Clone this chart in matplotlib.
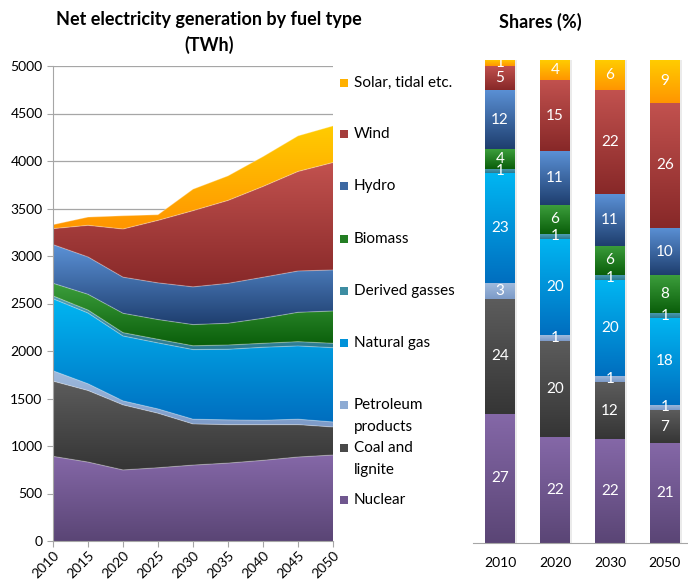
import numpy as np
import matplotlib
matplotlib.use('Agg')
import matplotlib.pyplot as plt
from matplotlib.colors import LinearSegmentedColormap, to_rgb
from matplotlib.patches import Rectangle

plt.rcParams['font.family'] = ['Lato', 'DejaVu Sans']

# -- data (TWh) --
years = [2010, 2015, 2020, 2025, 2030, 2035, 2040, 2045, 2050]
nuclear = [891, 831, 748, 771, 799, 820, 849, 884, 905]
coal = [792, 753, 685, 574, 433, 405, 376, 341, 295]
petroleum = [109, 71, 42, 45, 50, 50, 46, 57, 53]
natural_gas = [758, 745, 683, 695, 733, 743, 768, 771, 782]
derived_gas = [30, 31, 35, 38, 40, 45, 42, 45, 46]
biomass = [133, 166, 204, 208, 223, 229, 263, 309, 340]
hydro = [407, 393, 380, 386, 397, 420, 432, 435, 432]
wind = [168, 333, 507, 658, 802, 873, 956, 1048, 1131]
solar = [42, 87, 140, 60, 227, 259, 315, 375, 386]

fuel_names = ['Nuclear', 'Coal and\nlignite', 'Petroleum\nproducts', 'Natural gas',
              'Derived gasses', 'Biomass', 'Hydro', 'Wind', 'Solar, tidal etc.']
series = [nuclear, coal, petroleum, natural_gas, derived_gas, biomass, hydro, wind, solar]

# shares (%) shown on the bars, bottom to top
share_years = ['2010', '2020', '2030', '2050']
shares_2010 = [27, 24, 3, 23, 1, 4, 12, 5, 1]
shares_2020 = [22, 20, 1, 20, 1, 6, 11, 15, 4]
shares_2030 = [22, 12, 1, 20, 1, 6, 11, 22, 6]
shares_2050 = [21, 7, 1, 18, 1, 8, 10, 26, 9]
share_labels = [shares_2010, shares_2020, shares_2030, shares_2050]

# gradient colours (top, bottom) per fuel
colors = [('#8568A8', '#5A4575'),
          ('#5C5C5C', '#353535'),
          ('#A0BBDD', '#7C9AC8'),
          ('#00B6F2', '#006EBF'),
          ('#4F9FB4', '#2B7A90'),
          ('#3C9E3C', '#0A5E0A'),
          ('#5B91D6', '#1E3E6E'),
          ('#C2524F', '#872828'),
          ('#FFCC00', '#FF9500')]

grad = np.linspace(0, 1, 256).reshape(-1, 1)


def gradient(ax, clip, top, bottom, x0, x1, y0, y1, z):
    cmap = LinearSegmentedColormap.from_list('g', [bottom, top])
    im = ax.imshow(grad, cmap=cmap, origin='lower', extent=[x0, x1, y0, y1],
                   aspect='auto', interpolation='bilinear', zorder=z)
    if isinstance(clip, Rectangle):
        im.set_clip_path(clip)
    else:
        im.set_clip_path(clip, ax.transData)
    return im


def mid(c1, c2):
    return tuple((a + b) / 2 for a, b in zip(to_rgb(c1), to_rgb(c2)))


fig = plt.figure(figsize=(6.88, 5.8), dpi=100)

# -- left: stacked area --
ax = fig.add_axes([53/688, 39/580, 280/688, 475/580])
x = np.array(years, dtype=float)
base = np.zeros(len(years))
for i, vals in enumerate(series):
    top = base + np.array(vals)
    poly = ax.fill_between(x, base, top, facecolor='none', edgecolor='none')
    gradient(ax, poly.get_paths()[0], colors[i][0], colors[i][1],
             x[0], x[-1], base.min(), top.max(), 2 + i * 0.01)
    ax.plot(x, top, color='white', alpha=0.3, lw=0.8, zorder=3)
    base = top

ax.set_xlim(2010, 2050)
ax.set_ylim(0, 5000)
ax.set_yticks(range(0, 5001, 500))
ax.set_xticks(years)
ax.set_xticklabels([str(y) for y in years], rotation=45, ha='right',
                   rotation_mode='anchor')
ax.grid(axis='y', color='#A6A6A6', lw=0.9, zorder=0)
ax.set_axisbelow(True)
for s in ['top', 'right']:
    ax.spines[s].set_visible(False)
for s in ['left', 'bottom']:
    ax.spines[s].set_color('#A6A6A6')
    ax.spines[s].set_zorder(5)
ax.tick_params(colors='#A6A6A6', labelcolor='black', labelsize=10, length=4)
ax.tick_params(axis='x', pad=2)

fig.text(209/688, 1 - 20/580, 'Net electricity generation by fuel type',
         ha='center', va='center', fontweight='bold', fontsize=13)
fig.text(209/688, 1 - 45/580, '(TWh)', ha='center', va='center',
         fontweight='bold', fontsize=13)

# -- legend --
legend_y = [83, 134, 186, 239, 291, 343, 405, 448, 500]
for i in range(len(series) - 1, -1, -1):
    y = legend_y[len(series) - 1 - i]
    fig.patches.append(Rectangle((340/688, (580 - y - 4)/580), 8/688, 8/580,
                                 transform=fig.transFigure,
                                 facecolor=mid(*colors[i]), edgecolor='none'))
    for j, line in enumerate(fuel_names[i].split('\n')):
        fig.text(354/688, (580 - y - j * 22)/580, line, ha='left', va='center',
                 fontsize=11)

# -- right: 100% stacked shares --
ax2 = fig.add_axes([473/688, 37/580, 215/688, 483/580])
idx = [years.index(int(y)) for y in share_years]
totals = np.array([sum(s[k] for s in series) for k in idx], dtype=float)
bottoms = np.zeros(len(idx))
pos = np.arange(len(idx))
# faint shadow behind bars
ax2.bar(pos + 0.04, [100] * len(pos), 0.53, color='#000000', alpha=0.08,
        edgecolor='none', zorder=1)
for i, vals in enumerate(series):
    h = np.array([vals[k] for k in idx]) / totals * 100
    bars = ax2.bar(pos, h, 0.53, bottom=bottoms, color='none', edgecolor='none')
    for b, p, hb, bt in zip(bars, pos, h, bottoms):
        gradient(ax2, b, colors[i][0], colors[i][1], p - 0.265, p + 0.265,
                 bt, bt + hb, 2)
    for p, hb, bt, lab in zip(pos, h, bottoms, share_labels):
        ax2.text(p, bt + hb / 2, str(lab[i]), ha='center', va='center',
                 color='white', fontsize=11, zorder=4)
    bottoms = bottoms + h

ax2.set_xlim(-0.49, 3.42)
ax2.set_ylim(0, 100)
ax2.set_xticks(pos)
ax2.set_xticklabels(share_years)
ax2.set_yticks([])
for s in ['top', 'right', 'left']:
    ax2.spines[s].set_visible(False)
ax2.spines['bottom'].set_color('#A6A6A6')
ax2.spines['bottom'].set_zorder(5)
ax2.tick_params(axis='x', length=0, labelsize=10, pad=10)

fig.text(540/688, 1 - 22/580, 'Shares (%)', ha='center', va='center',
         fontweight='bold', fontsize=13)

plt.savefig('out.png', dpi=100)
